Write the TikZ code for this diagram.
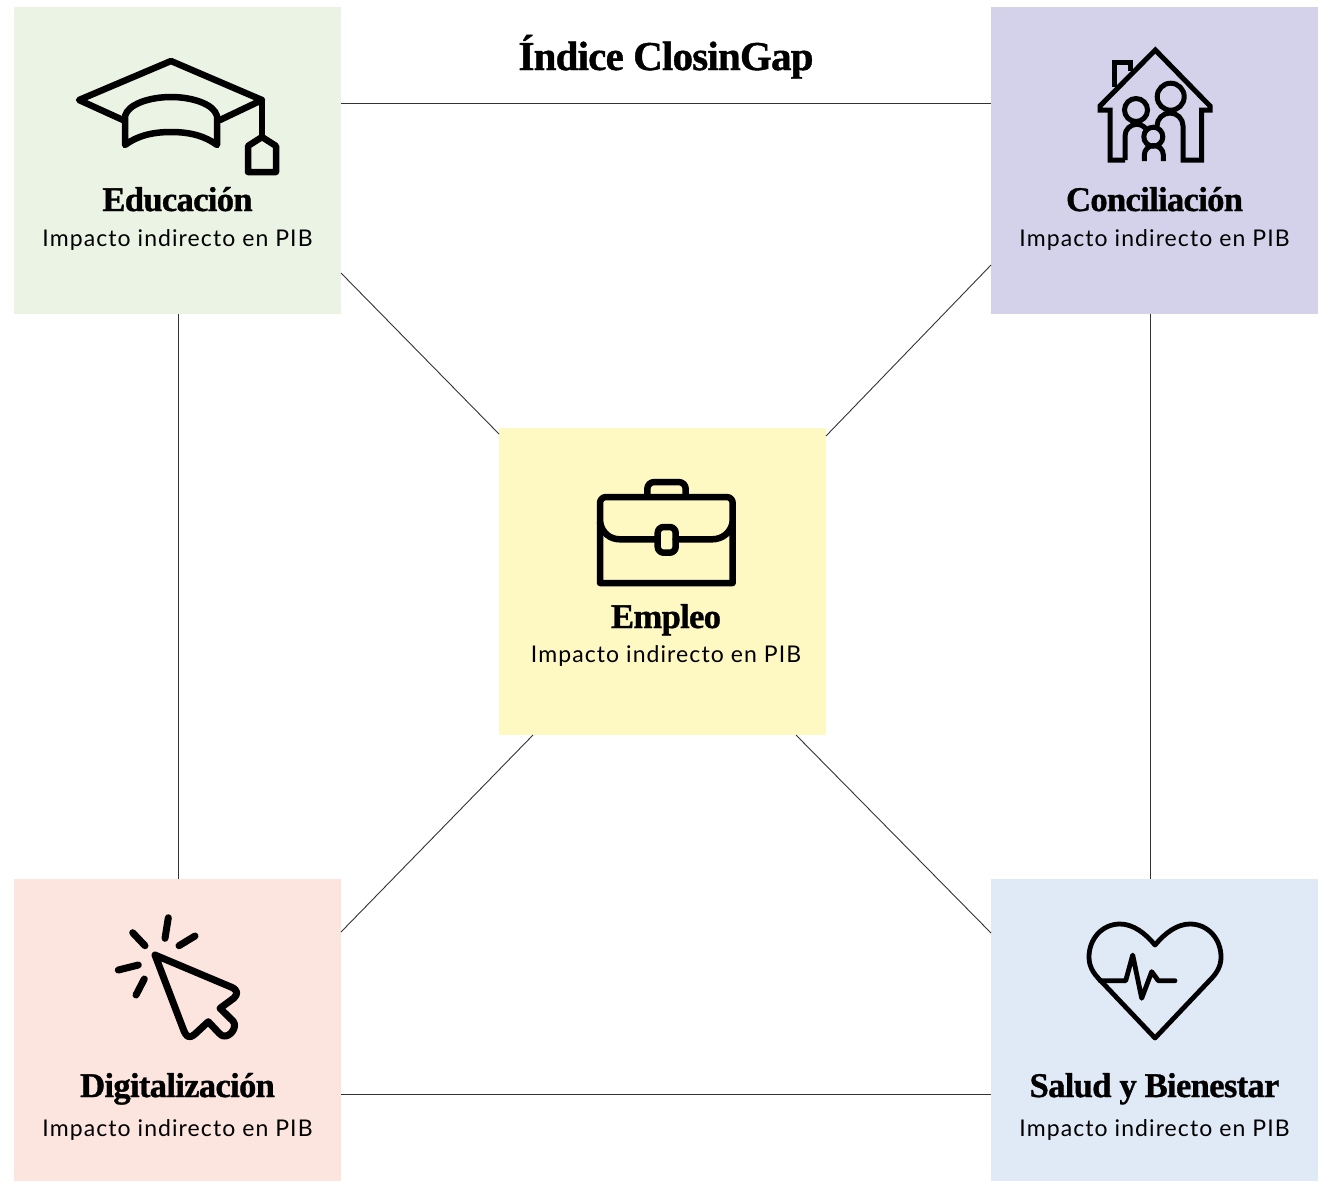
\documentclass[tikz,border=0pt]{standalone}
\usepackage{fontspec}
\newfontfamily\headf[FakeBold=1,LetterSpace=-2]{Liberation Serif Bold}
\newfontfamily\subf[LetterSpace=4.7]{Lato}
\definecolor{cgreen}{HTML}{EBF4E4}
\definecolor{cpurple}{HTML}{D4D2EA}
\definecolor{cyellow}{HTML}{FEF8C2}
\definecolor{cpink}{HTML}{FCE4DF}
\definecolor{cblue}{HTML}{E0E9F6}
\tikzset{
 tile/.style={anchor=north west,inner sep=0pt,outer sep=0pt,minimum width=327pt,minimum height=#1},
 link/.style={draw=black!80,line width=0.9pt},
 icon/.style={draw=black,line width=#1,line join=round,line cap=round},
 head/.style={anchor=base,inner sep=0pt,font=\headf\fontsize{34.6}{36}\selectfont},
 sub/.style={anchor=base,inner sep=0pt,font=\subf\fontsize{23}{26}\selectfont},
}
\begin{document}
\begin{tikzpicture}[x=1pt,y=-1pt]
\useasboundingbox (0,0) rectangle (1319,1181);
\node[tile=307pt,fill=cgreen] (edu) at (14,7) {};
\node[tile=307pt,fill=cpurple] (con) at (991,7) {};
\node[tile=307pt,fill=cyellow] (emp) at (499,428) {};
\node[tile=302pt,fill=cpink] (dig) at (14,879) {};
\node[tile=302pt,fill=cblue] (sal) at (991,879) {};
% connectors
\draw[link] ([yshift=-96pt]edu.north east) -- ([yshift=-96pt]con.north west);
\draw[link] ([yshift=41pt]edu.south east) -- ([yshift=-6pt]emp.north west);
\draw[link] ([yshift=49pt]con.south west) -- ([yshift=-8pt]emp.north east);
\draw[link] ([xshift=0.5pt]edu.south) -- ([xshift=0.5pt]dig.north);
\draw[link] ([xshift=-4.5pt]con.south) -- ([xshift=-4.5pt]sal.north);
\draw[link] ([yshift=87pt]dig.south east) -- ([yshift=87pt]sal.south west);
\draw[link] ([yshift=-53pt]dig.north east) -- ([xshift=34pt]emp.south west);
\draw[link] ([yshift=-54pt]sal.north west) -- ([xshift=-30pt]emp.south east);
% texts
\node[anchor=base,inner sep=0pt,font=\headf\fontsize{41}{43}\selectfont] (title) at (666,70) {Índice ClosinGap};
\node[head] (eduh) at (177.5,211) {Educación};
\node[sub] (edus) at (177.5,246) {Impacto indirecto en PIB};
\node[head] (conh) at (1154.5,211) {Conciliación};
\node[sub] (cons) at (1154.5,246) {Impacto indirecto en PIB};
\node[head] (emph) at (666,628) {Empleo};
\node[sub] (emps) at (666,662) {Impacto indirecto en PIB};
\node[head] (digh) at (177.5,1097) {Digitalización};
\node[sub] (digs) at (177.5,1136) {Impacto indirecto en PIB};
\node[head] (salh) at (1154.5,1097) {Salud y Bienestar};
\node[sub] (sals) at (1154.5,1136) {Impacto indirecto en PIB};
% mortarboard
\begin{scope}[icon=6.5pt]
\draw (123,120) -- (79,100) -- (171,61) -- (262,100) -- (220,120);
\draw (125,145) -- (125,116) .. controls (128,104) and (150,97) .. (171,97) .. controls (192,97) and (214,104) .. (217,116) -- (217,145) .. controls (205,136) and (190,132) .. (171,132) .. controls (152,132) and (137,136) .. (125,145) -- cycle;
\draw (262,100) -- (262,137);
\draw (262,137) -- (276,146) -- (276,172) -- (248,172) -- (248,146) -- cycle;
\end{scope}
% house
\begin{scope}[icon=5pt,line cap=butt,line join=miter]
\draw (1114,87) -- (1114,62) -- (1130.7,62) -- (1130.7,71);
\draw (1125,160) -- (1110,160) -- (1110,110) -- (1100,110) -- (1100,106) -- (1155.3,50) -- (1210,106) -- (1210,110) -- (1201.7,110) -- (1201.7,160) -- (1183,160) -- (1183,126) arc[start angle=0,end angle=180,radius=13pt] -- (1157,129);
\draw (1125,160) -- (1125,136) arc[start angle=180,end angle=30,radius=11.7pt];
\draw (1144.3,161) -- (1144.3,155) arc[start angle=180,end angle=0,radius=9.5pt] -- (1163.3,161);
\draw (1170.7,96.7) circle[radius=13.5pt];
\draw (1136,110) circle[radius=11.5pt];
\draw (1153.3,136.7) circle[radius=9.5pt];
\end{scope}
% briefcase
\begin{scope}[icon=6.5pt]
\draw (600,583) [rounded corners=6pt] -- (600,497) -- (732.7,497) [sharp corners] -- (732.7,583) -- cycle;
\draw[rounded corners=7pt] (647.3,495) -- (647.3,482) -- (685.7,482) -- (685.7,495);
\draw (600,522) .. controls (602,533) and (610,539.3) .. (620,539.3) -- (657.7,539.3);
\draw (675.7,539.3) -- (712,539.3) .. controls (722,539.3) and (730.7,533) .. (732.7,522);
\draw[rounded corners=6pt] (657.7,527) rectangle (675.7,552.7);
\end{scope}
% cursor
\begin{scope}[icon=7pt]
\draw (155,955) -- (231,987) .. controls (238,990) and (238,994) .. (234,998) -- (220,1008.3) -- (233,1021) .. controls (238,1027) and (230,1037) .. (224,1036) .. controls (221,1036) and (220,1034) .. (208.3,1021.7) -- (195,1034) .. controls (188,1040) and (186,1035) .. (184,1031) -- cycle;
\draw (168.3,917.7) -- (165,938.3);
\draw (195,936) -- (179,945.7);
\draw (132.7,932.7) -- (145,945.7);
\draw (118.3,970) -- (138.3,965);
\draw (144.3,979) -- (136,995);
\end{scope}
% heart
\begin{scope}[icon=4.8pt]
\draw (1155,945) .. controls (1145,933) and (1133,924) .. (1120,924) .. controls (1102,924) and (1089,939) .. (1089,957) .. controls (1089,966) and (1093,973) .. (1100,980) -- (1155,1038) -- (1210,980) .. controls (1217,973) and (1221,966) .. (1221,957) .. controls (1221,939) and (1208,924) .. (1190,924) .. controls (1177,924) and (1165,933) .. (1155,945) -- cycle;
\draw (1100,980.7) -- (1125.7,980.7) -- (1132.7,955) -- (1141.7,998.3) -- (1151.7,971.7) -- (1158.3,980.7) -- (1175,980.7);
\end{scope}
\end{tikzpicture}
\end{document}
